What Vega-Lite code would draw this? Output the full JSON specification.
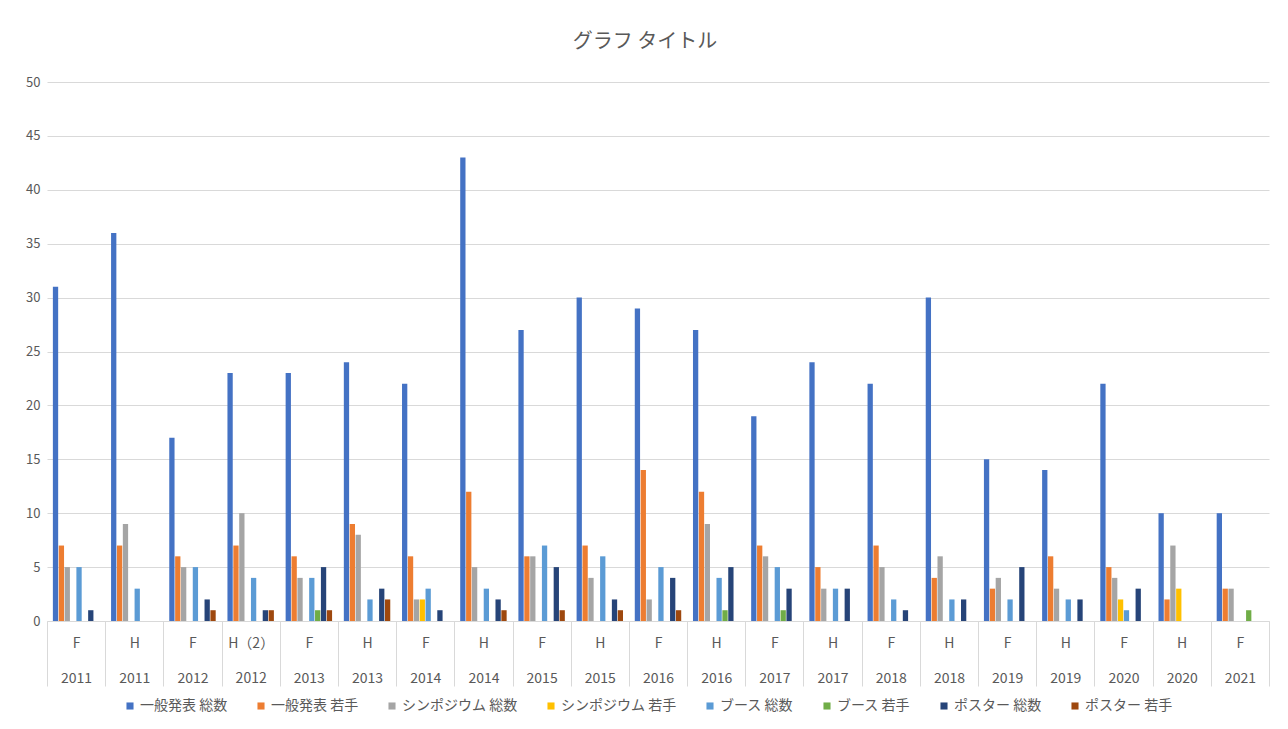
{
  "$schema": "https://vega.github.io/schema/vega-lite/v6.json",
  "width": 1222,
  "height": 539,
  "autosize": {"type": "none"},
  "padding": {"left": 47, "top": 82, "right": 19, "bottom": 108},
  "background": "white",
  "title": {"text": "グラフ タイトル", "fontSize": 20, "font": "Noto Sans CJK JP", "fontWeight": "normal", "color": "#595959", "offset": 24, "anchor": "middle", "dx": -13},
  "config": {"view": {"stroke": null}, "font": "Noto Sans CJK JP"},
  "data": {"values": [
    {"g":"F|2011","s":"一般発表 総数","v":31},{"g":"F|2011","s":"一般発表 若手","v":7},{"g":"F|2011","s":"シンポジウム 総数","v":5},{"g":"F|2011","s":"シンポジウム 若手","v":0},{"g":"F|2011","s":"ブース 総数","v":5},{"g":"F|2011","s":"ブース 若手","v":0},{"g":"F|2011","s":"ポスター 総数","v":1},{"g":"F|2011","s":"ポスター 若手","v":0},
    {"g":"H|2011","s":"一般発表 総数","v":36},{"g":"H|2011","s":"一般発表 若手","v":7},{"g":"H|2011","s":"シンポジウム 総数","v":9},{"g":"H|2011","s":"シンポジウム 若手","v":0},{"g":"H|2011","s":"ブース 総数","v":3},{"g":"H|2011","s":"ブース 若手","v":0},{"g":"H|2011","s":"ポスター 総数","v":0},{"g":"H|2011","s":"ポスター 若手","v":0},
    {"g":"F|2012","s":"一般発表 総数","v":17},{"g":"F|2012","s":"一般発表 若手","v":6},{"g":"F|2012","s":"シンポジウム 総数","v":5},{"g":"F|2012","s":"シンポジウム 若手","v":0},{"g":"F|2012","s":"ブース 総数","v":5},{"g":"F|2012","s":"ブース 若手","v":0},{"g":"F|2012","s":"ポスター 総数","v":2},{"g":"F|2012","s":"ポスター 若手","v":1},
    {"g":"H（2）|2012","s":"一般発表 総数","v":23},{"g":"H（2）|2012","s":"一般発表 若手","v":7},{"g":"H（2）|2012","s":"シンポジウム 総数","v":10},{"g":"H（2）|2012","s":"シンポジウム 若手","v":0},{"g":"H（2）|2012","s":"ブース 総数","v":4},{"g":"H（2）|2012","s":"ブース 若手","v":0},{"g":"H（2）|2012","s":"ポスター 総数","v":1},{"g":"H（2）|2012","s":"ポスター 若手","v":1},
    {"g":"F|2013","s":"一般発表 総数","v":23},{"g":"F|2013","s":"一般発表 若手","v":6},{"g":"F|2013","s":"シンポジウム 総数","v":4},{"g":"F|2013","s":"シンポジウム 若手","v":0},{"g":"F|2013","s":"ブース 総数","v":4},{"g":"F|2013","s":"ブース 若手","v":1},{"g":"F|2013","s":"ポスター 総数","v":5},{"g":"F|2013","s":"ポスター 若手","v":1},
    {"g":"H|2013","s":"一般発表 総数","v":24},{"g":"H|2013","s":"一般発表 若手","v":9},{"g":"H|2013","s":"シンポジウム 総数","v":8},{"g":"H|2013","s":"シンポジウム 若手","v":0},{"g":"H|2013","s":"ブース 総数","v":2},{"g":"H|2013","s":"ブース 若手","v":0},{"g":"H|2013","s":"ポスター 総数","v":3},{"g":"H|2013","s":"ポスター 若手","v":2},
    {"g":"F|2014","s":"一般発表 総数","v":22},{"g":"F|2014","s":"一般発表 若手","v":6},{"g":"F|2014","s":"シンポジウム 総数","v":2},{"g":"F|2014","s":"シンポジウム 若手","v":2},{"g":"F|2014","s":"ブース 総数","v":3},{"g":"F|2014","s":"ブース 若手","v":0},{"g":"F|2014","s":"ポスター 総数","v":1},{"g":"F|2014","s":"ポスター 若手","v":0},
    {"g":"H|2014","s":"一般発表 総数","v":43},{"g":"H|2014","s":"一般発表 若手","v":12},{"g":"H|2014","s":"シンポジウム 総数","v":5},{"g":"H|2014","s":"シンポジウム 若手","v":0},{"g":"H|2014","s":"ブース 総数","v":3},{"g":"H|2014","s":"ブース 若手","v":0},{"g":"H|2014","s":"ポスター 総数","v":2},{"g":"H|2014","s":"ポスター 若手","v":1},
    {"g":"F|2015","s":"一般発表 総数","v":27},{"g":"F|2015","s":"一般発表 若手","v":6},{"g":"F|2015","s":"シンポジウム 総数","v":6},{"g":"F|2015","s":"シンポジウム 若手","v":0},{"g":"F|2015","s":"ブース 総数","v":7},{"g":"F|2015","s":"ブース 若手","v":0},{"g":"F|2015","s":"ポスター 総数","v":5},{"g":"F|2015","s":"ポスター 若手","v":1},
    {"g":"H|2015","s":"一般発表 総数","v":30},{"g":"H|2015","s":"一般発表 若手","v":7},{"g":"H|2015","s":"シンポジウム 総数","v":4},{"g":"H|2015","s":"シンポジウム 若手","v":0},{"g":"H|2015","s":"ブース 総数","v":6},{"g":"H|2015","s":"ブース 若手","v":0},{"g":"H|2015","s":"ポスター 総数","v":2},{"g":"H|2015","s":"ポスター 若手","v":1},
    {"g":"F|2016","s":"一般発表 総数","v":29},{"g":"F|2016","s":"一般発表 若手","v":14},{"g":"F|2016","s":"シンポジウム 総数","v":2},{"g":"F|2016","s":"シンポジウム 若手","v":0},{"g":"F|2016","s":"ブース 総数","v":5},{"g":"F|2016","s":"ブース 若手","v":0},{"g":"F|2016","s":"ポスター 総数","v":4},{"g":"F|2016","s":"ポスター 若手","v":1},
    {"g":"H|2016","s":"一般発表 総数","v":27},{"g":"H|2016","s":"一般発表 若手","v":12},{"g":"H|2016","s":"シンポジウム 総数","v":9},{"g":"H|2016","s":"シンポジウム 若手","v":0},{"g":"H|2016","s":"ブース 総数","v":4},{"g":"H|2016","s":"ブース 若手","v":1},{"g":"H|2016","s":"ポスター 総数","v":5},{"g":"H|2016","s":"ポスター 若手","v":0},
    {"g":"F|2017","s":"一般発表 総数","v":19},{"g":"F|2017","s":"一般発表 若手","v":7},{"g":"F|2017","s":"シンポジウム 総数","v":6},{"g":"F|2017","s":"シンポジウム 若手","v":0},{"g":"F|2017","s":"ブース 総数","v":5},{"g":"F|2017","s":"ブース 若手","v":1},{"g":"F|2017","s":"ポスター 総数","v":3},{"g":"F|2017","s":"ポスター 若手","v":0},
    {"g":"H|2017","s":"一般発表 総数","v":24},{"g":"H|2017","s":"一般発表 若手","v":5},{"g":"H|2017","s":"シンポジウム 総数","v":3},{"g":"H|2017","s":"シンポジウム 若手","v":0},{"g":"H|2017","s":"ブース 総数","v":3},{"g":"H|2017","s":"ブース 若手","v":0},{"g":"H|2017","s":"ポスター 総数","v":3},{"g":"H|2017","s":"ポスター 若手","v":0},
    {"g":"F|2018","s":"一般発表 総数","v":22},{"g":"F|2018","s":"一般発表 若手","v":7},{"g":"F|2018","s":"シンポジウム 総数","v":5},{"g":"F|2018","s":"シンポジウム 若手","v":0},{"g":"F|2018","s":"ブース 総数","v":2},{"g":"F|2018","s":"ブース 若手","v":0},{"g":"F|2018","s":"ポスター 総数","v":1},{"g":"F|2018","s":"ポスター 若手","v":0},
    {"g":"H|2018","s":"一般発表 総数","v":30},{"g":"H|2018","s":"一般発表 若手","v":4},{"g":"H|2018","s":"シンポジウム 総数","v":6},{"g":"H|2018","s":"シンポジウム 若手","v":0},{"g":"H|2018","s":"ブース 総数","v":2},{"g":"H|2018","s":"ブース 若手","v":0},{"g":"H|2018","s":"ポスター 総数","v":2},{"g":"H|2018","s":"ポスター 若手","v":0},
    {"g":"F|2019","s":"一般発表 総数","v":15},{"g":"F|2019","s":"一般発表 若手","v":3},{"g":"F|2019","s":"シンポジウム 総数","v":4},{"g":"F|2019","s":"シンポジウム 若手","v":0},{"g":"F|2019","s":"ブース 総数","v":2},{"g":"F|2019","s":"ブース 若手","v":0},{"g":"F|2019","s":"ポスター 総数","v":5},{"g":"F|2019","s":"ポスター 若手","v":0},
    {"g":"H|2019","s":"一般発表 総数","v":14},{"g":"H|2019","s":"一般発表 若手","v":6},{"g":"H|2019","s":"シンポジウム 総数","v":3},{"g":"H|2019","s":"シンポジウム 若手","v":0},{"g":"H|2019","s":"ブース 総数","v":2},{"g":"H|2019","s":"ブース 若手","v":0},{"g":"H|2019","s":"ポスター 総数","v":2},{"g":"H|2019","s":"ポスター 若手","v":0},
    {"g":"F|2020","s":"一般発表 総数","v":22},{"g":"F|2020","s":"一般発表 若手","v":5},{"g":"F|2020","s":"シンポジウム 総数","v":4},{"g":"F|2020","s":"シンポジウム 若手","v":2},{"g":"F|2020","s":"ブース 総数","v":1},{"g":"F|2020","s":"ブース 若手","v":0},{"g":"F|2020","s":"ポスター 総数","v":3},{"g":"F|2020","s":"ポスター 若手","v":0},
    {"g":"H|2020","s":"一般発表 総数","v":10},{"g":"H|2020","s":"一般発表 若手","v":2},{"g":"H|2020","s":"シンポジウム 総数","v":7},{"g":"H|2020","s":"シンポジウム 若手","v":3},{"g":"H|2020","s":"ブース 総数","v":0},{"g":"H|2020","s":"ブース 若手","v":0},{"g":"H|2020","s":"ポスター 総数","v":0},{"g":"H|2020","s":"ポスター 若手","v":0},
    {"g":"F|2021","s":"一般発表 総数","v":10},{"g":"F|2021","s":"一般発表 若手","v":3},{"g":"F|2021","s":"シンポジウム 総数","v":3},{"g":"F|2021","s":"シンポジウム 若手","v":0},{"g":"F|2021","s":"ブース 総数","v":0},{"g":"F|2021","s":"ブース 若手","v":1},{"g":"F|2021","s":"ポスター 総数","v":0},{"g":"F|2021","s":"ポスター 若手","v":0}
  ]},
  "mark": {"type": "bar"},
  "encoding": {
    "x": {
      "field": "g", "type": "nominal", "sort": null,
      "scale": {"paddingInner": 0, "paddingOuter": 0},
      "axis": {
        "title": null, "labelAngle": 0,
        "labelExpr": "datum.value ? split(datum.value, '|') : ''",
        "labelLineHeight": 35, "labelFontSize": 14, "labelColor": "#595959",
        "labelBaseline": "top", "labelPadding": -50,
        "ticks": true, "tickBand": "extent", "tickSize": 65, "tickColor": "#d9d9d9",
        "domainColor": "#d9d9d9", "grid": false
      }
    },
    "xOffset": {
      "field": "s", "type": "nominal",
      "sort": ["一般発表 総数", "一般発表 若手", "シンポジウム 総数", "シンポジウム 若手", "ブース 総数", "ブース 若手", "ポスター 総数", "ポスター 若手"],
      "scale": {"paddingInner": 0.1, "paddingOuter": 1.15}
    },
    "y": {
      "field": "v", "type": "quantitative",
      "scale": {"domain": [0, 50]},
      "axis": {"title": null, "values": [0, 5, 10, 15, 20, 25, 30, 35, 40, 45, 50], "grid": true, "gridColor": "#d9d9d9", "domain": false, "ticks": false, "labelFontSize": 13, "labelColor": "#595959", "labelPadding": 7}
    },
    "color": {
      "field": "s", "type": "nominal",
      "sort": ["一般発表 総数", "一般発表 若手", "シンポジウム 総数", "シンポジウム 若手", "ブース 総数", "ブース 若手", "ポスター 総数", "ポスター 若手"],
      "scale": {
        "domain": ["一般発表 総数", "一般発表 若手", "シンポジウム 総数", "シンポジウム 若手", "ブース 総数", "ブース 若手", "ポスター 総数", "ポスター 若手"],
        "range": ["#4472C4", "#ED7D31", "#A5A5A5", "#FFC000", "#5B9BD5", "#70AD47", "#264478", "#9E480E"]
      },
      "legend": {"orient": "none", "legendX": 76, "legendY": 617, "direction": "horizontal", "title": null, "symbolType": "square", "symbolSize": 50, "labelFontSize": 14, "labelColor": "#595959", "labelOffset": 3, "columnPadding": 26, "labelLimit": 300}
    }
  }
}
